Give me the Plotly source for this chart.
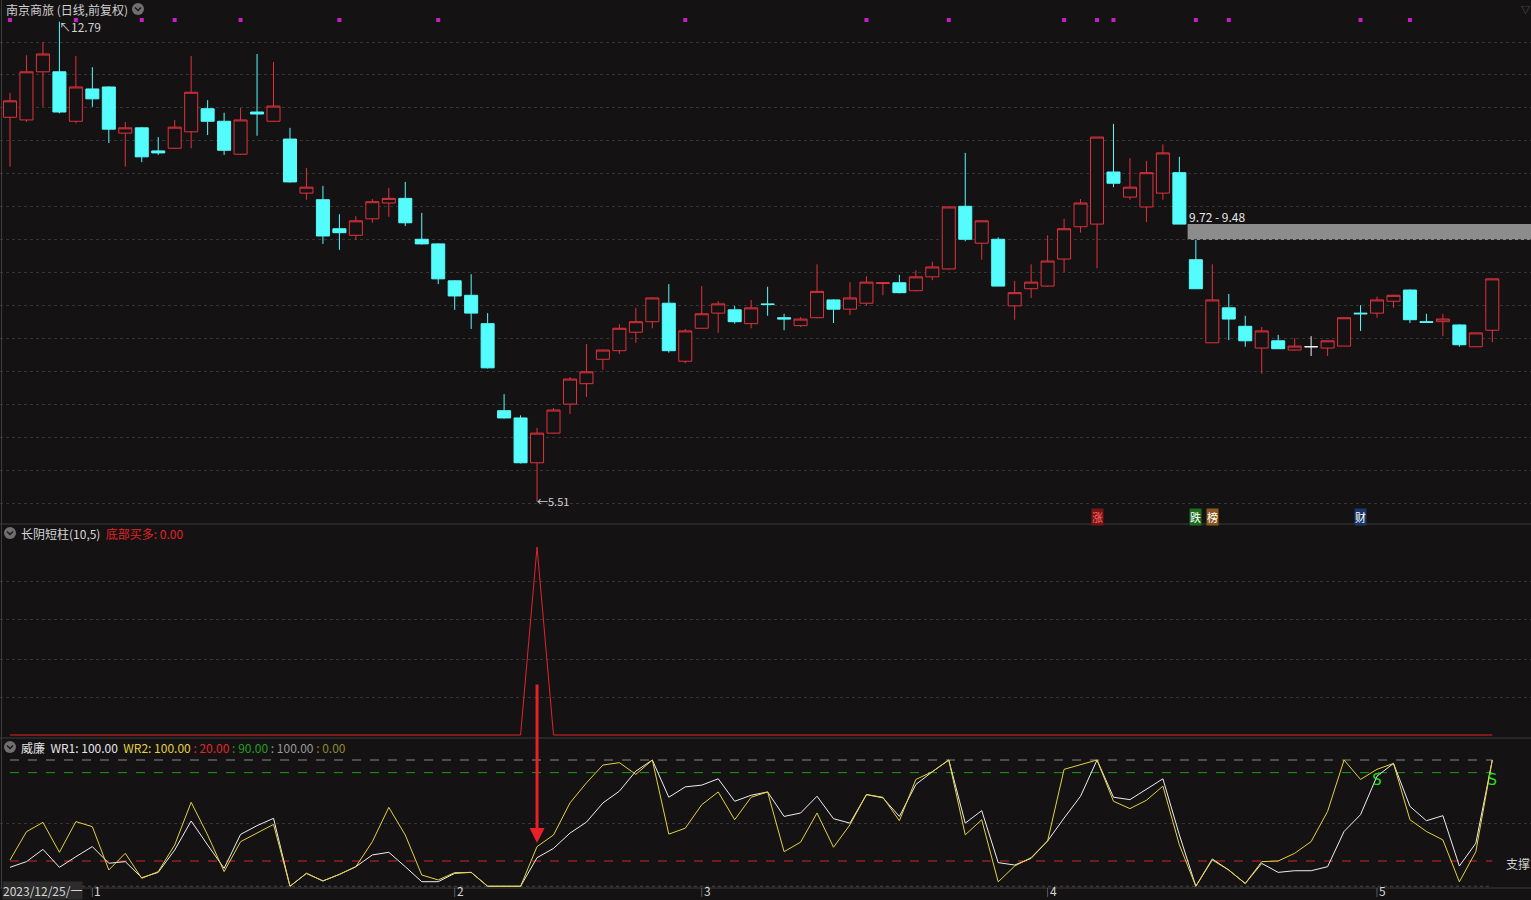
import plotly.graph_objects as go

W, H = 1531, 900
BG = '#151214'
RED = '#e0323c'
CYAN = '#54fcfc'
FONT = 'Noto Sans CJK SC, Microsoft YaHei, sans-serif'

# ---------------- data ----------------
opens = [11.34, 11.30, 12.03, 12.03, 11.28, 11.77, 11.80, 11.10, 11.18, 10.83,
         10.87, 11.12, 11.47, 11.28, 10.78, 11.42, 11.28, 11.01, 10.19, 10.09,
         9.65, 9.55, 9.80, 10.04, 10.11, 9.49, 9.42, 8.86, 8.64, 8.21,
         6.89, 6.78, 6.10, 6.55, 6.99, 7.30, 7.67, 7.80, 8.08, 8.24,
         8.52, 7.64, 8.14, 8.37, 8.42, 8.21, 8.51, 8.30, 8.18, 8.30,
         8.57, 8.43, 8.52, 8.82, 8.83, 8.71, 8.92, 9.04, 9.99, 9.43,
         9.49, 8.48, 8.74, 8.78, 9.19, 9.68, 9.72, 10.51, 10.13, 9.98,
         10.19, 10.50, 9.18, 7.92, 8.45, 8.17, 7.84, 7.95, 7.81, 7.86,
         7.84, 7.87, 8.37, 8.37, 8.55, 8.72, 8.24, 8.24, 8.19, 7.86,
         8.11]
highs = [11.71, 12.28, 12.48, 12.79, 12.27, 12.10, 11.81, 11.27, 11.19, 11.04,
         11.30, 12.27, 11.60, 11.41, 11.48, 12.30, 12.18, 11.18, 10.57, 10.30,
         9.87, 9.84, 10.10, 10.27, 10.36, 9.89, 9.43, 8.87, 8.96, 8.37,
         7.14, 6.82, 6.63, 6.93, 7.40, 7.90, 7.82, 8.20, 8.45, 8.61,
         8.81, 8.13, 8.78, 8.55, 8.48, 8.57, 8.77, 8.36, 8.31, 9.11,
         8.58, 8.84, 8.93, 8.84, 8.95, 9.02, 9.15, 9.98, 10.80, 9.78,
         9.52, 8.86, 9.11, 9.55, 9.80, 10.10, 11.04, 11.24, 10.72, 10.68,
         10.93, 10.74, 9.48, 9.11, 8.66, 8.33, 8.16, 8.04, 7.99, 8.02,
         7.95, 8.30, 8.49, 8.62, 8.65, 8.73, 8.36, 8.36, 8.20, 8.07,
         8.89]
lows = [10.59, 11.27, 11.50, 11.40, 11.25, 11.50, 10.95, 10.59, 10.66, 10.77,
        10.86, 10.87, 11.07, 10.77, 10.77, 11.06, 11.27, 10.35, 10.09, 9.42,
        9.33, 9.48, 9.74, 9.83, 9.69, 9.41, 8.81, 8.42, 8.13, 7.53,
        6.77, 6.09, 5.51, 6.54, 6.84, 7.10, 7.51, 7.75, 7.92, 8.14,
        7.77, 7.61, 8.13, 8.07, 8.21, 8.14, 8.33, 8.11, 8.16, 8.29,
        8.22, 8.34, 8.48, 8.64, 8.67, 8.70, 8.87, 9.03, 9.46, 9.18,
        8.78, 8.27, 8.60, 8.77, 8.99, 9.59, 9.05, 10.28, 10.09, 9.75,
        10.09, 9.72, 8.74, 7.92, 7.96, 7.86, 7.45, 7.83, 7.80, 7.72,
        7.72, 7.87, 8.10, 8.30, 8.45, 8.22, 8.23, 8.02, 7.86, 7.86,
        7.93]
closes = [11.59, 12.03, 12.30, 11.42, 11.80, 11.62, 11.16, 11.18, 10.74, 10.80,
          11.19, 11.72, 11.28, 10.84, 11.30, 11.39, 11.51, 10.36, 10.28, 9.54,
          9.59, 9.77, 10.06, 10.11, 9.74, 9.42, 8.89, 8.63, 8.37, 7.54,
          6.78, 6.10, 6.55, 6.90, 7.37, 7.48, 7.81, 8.14, 8.24, 8.60,
          7.80, 8.10, 8.36, 8.51, 8.24, 8.45, 8.50, 8.28, 8.28, 8.70,
          8.43, 8.60, 8.84, 8.83, 8.68, 8.92, 9.07, 9.98, 9.49, 9.77,
          8.78, 8.68, 8.84, 9.16, 9.65, 10.04, 11.04, 10.34, 10.28, 10.50,
          10.80, 9.72, 8.74, 8.57, 8.28, 7.95, 8.10, 7.83, 7.87, 7.86,
          7.95, 8.30, 8.36, 8.57, 8.64, 8.27, 8.23, 8.28, 7.89, 8.07,
          8.89]

# 长阴短柱 indicator (底部买多)
bottom_buy = [0, 0, 0, 0, 0, 0, 0, 0, 0, 0,
              0, 0, 0, 0, 0, 0, 0, 0, 0, 0,
              0, 0, 0, 0, 0, 0, 0, 0, 0, 0,
              0, 0, 1, 0, 0, 0, 0, 0, 0, 0,
              0, 0, 0, 0, 0, 0, 0, 0, 0, 0,
              0, 0, 0, 0, 0, 0, 0, 0, 0, 0,
              0, 0, 0, 0, 0, 0, 0, 0, 0, 0,
              0, 0, 0, 0, 0, 0, 0, 0, 0, 0,
              0, 0, 0, 0, 0, 0, 0, 0, 0, 0,
              0]

# 威廉 WR1 / WR2
wr1 = [15.0, 19.5, 29.2, 15.0, 23.4, 31.4, 18.2, 19.5, 6.8, 11.0,
       28.7, 51.7, 32.7, 14.2, 41.1, 48.0, 53.8, 0.0, 10.2, 4.2,
       9.4, 15.5, 24.8, 26.9, 15.5, 3.6, 3.6, 10.2, 11.0, 0.0,
       0.0, 0.0, 22.6, 30.0, 42.1, 50.8, 66.0, 75.3, 91.2, 100.0,
       70.5, 78.7, 80.1, 85.1, 67.3, 72.1, 74.7, 55.3, 58.0, 71.3,
       53.5, 50.0, 72.6, 70.0, 55.3, 80.6, 90.7, 100.0, 50.0, 59.9,
       18.7, 16.8, 22.1, 35.9, 54.0, 71.3, 100.0, 70.5, 68.6, 76.6,
       85.1, 40.7, 0.0, 21.6, 12.8, 2.2, 18.1, 11.0, 12.3, 12.3,
       15.5, 43.4, 56.7, 87.2, 97.3, 63.3, 51.9, 55.9, 16.0, 34.1,
       100.0]
wr2 = [20.8, 43.2, 50.6, 26.9, 51.2, 47.2, 12.9, 26.1, 6.3, 11.6,
       32.7, 66.5, 40.6, 11.6, 35.3, 41.9, 49.0, 0.0, 10.2, 4.2,
       9.4, 15.5, 35.3, 62.5, 40.6, 8.9, 5.0, 10.8, 11.0, 0.0,
       0.0, 0.0, 31.4, 40.6, 66.0, 81.9, 96.0, 97.9, 88.6, 100.0,
       41.3, 46.0, 64.6, 74.7, 52.7, 70.5, 74.7, 27.4, 34.9, 58.0,
       30.9, 48.7, 72.6, 70.5, 51.9, 84.6, 90.7, 100.0, 40.7, 52.7,
       3.5, 16.0, 22.7, 35.9, 92.6, 96.5, 100.0, 67.3, 61.5, 68.1,
       79.3, 32.8, 0.0, 20.8, 12.8, 2.2, 19.5, 20.0, 26.1, 35.4,
       59.3, 100.0, 84.6, 92.6, 97.3, 52.7, 43.4, 36.7, 3.5, 27.4,
       100.0]
wr_levels = [20, 90, 100, 0]

sell_idx = [83, 90]
sell_val = [83.3, 83.3]
sell_text = ['S', 'S']

signal_dots = [0, 4, 8, 10, 14, 20, 26, 41, 52, 57, 64, 66, 67, 72, 74, 82, 85]

gap_start = 71
gap_low, gap_high = 9.48, 9.72

event_idx = [66, 72, 73, 82]
event_text = ['涨', '跌', '榜', '财']

start_label = '2023/12/25/一'
month_idx = [5, 27, 42, 63, 83]
month_text = ['1', '2', '3', '4', '5']

title_main = '南京商旅 (日线,前复权)'
title_ind = '长阴短柱(10,5)'
ind_name = '底部买多'
title_wr = '威廉'
support_text = '支撑'

# ---------------- helpers ----------------
n = len(closes)
x = list(range(n))
STEP = 16.47
X0 = 10.0


def px(v):
    return v / W


def py(v):
    return 1 - v / H


x_range = [-X0 / STEP, (W - X0) / STEP]
# main price panel (pixel rows 0..524)
p_top, p_per_px = 13.119, 0.015167
y1_range = [p_top - 524 * p_per_px, p_top]
# indicator panel
y2_range = [(735 - 739) / 188.0, (735 - 525) / 188.0]
# WR panel
y3_range = [(886.25 - 888) / 1.2625, (886.25 - 739) / 1.2625]

is_doji = [o == c for o, c in zip(opens, closes)]

fig = go.Figure()

fig.add_trace(go.Candlestick(
    x=x,
    open=[None if d else v for v, d in zip(opens, is_doji)],
    high=[None if d else v for v, d in zip(highs, is_doji)],
    low=[None if d else v for v, d in zip(lows, is_doji)],
    close=[None if d else v for v, d in zip(closes, is_doji)],
    increasing=dict(line=dict(color=RED, width=1), fillcolor=BG),
    decreasing=dict(line=dict(color=CYAN, width=1), fillcolor=CYAN),
    xaxis='x', yaxis='y', hoverinfo='skip'))

dx = [i for i in x if is_doji[i]]
fig.add_trace(go.Candlestick(
    x=dx,
    open=[opens[i] for i in dx], high=[highs[i] for i in dx],
    low=[lows[i] for i in dx], close=[closes[i] for i in dx],
    increasing=dict(line=dict(color='#f0f0f0', width=1), fillcolor='#f0f0f0'),
    decreasing=dict(line=dict(color='#f0f0f0', width=1), fillcolor='#f0f0f0'),
    xaxis='x', yaxis='y', hoverinfo='skip'))

# top signal dots
fig.add_trace(go.Scatter(
    x=signal_dots, y=[y1_range[1] - 20 * p_per_px] * len(signal_dots),
    mode='markers', marker=dict(symbol='square', size=4, color='#c81ec8'),
    xaxis='x', yaxis='y', hoverinfo='skip'))

# indicator line
fig.add_trace(go.Scatter(
    x=x, y=bottom_buy, mode='lines', line=dict(color='#e0242c', width=1),
    xaxis='x', yaxis='y2', hoverinfo='skip'))

# WR lines
fig.add_trace(go.Scatter(
    x=x, y=wr1, mode='lines', line=dict(color='#eeeeee', width=1),
    xaxis='x', yaxis='y3', hoverinfo='skip'))
fig.add_trace(go.Scatter(
    x=x, y=wr2, mode='lines', line=dict(color='#e3d23c', width=1),
    xaxis='x', yaxis='y3', hoverinfo='skip'))
fig.add_trace(go.Scatter(
    x=sell_idx, y=sell_val, mode='text', text=sell_text,
    textfont=dict(color='#22dd22', size=15, family='DejaVu Sans'),
    xaxis='x', yaxis='y3', hoverinfo='skip'))

shapes = []
level_styles = [('#d42424', 'dash'), ('#1e9a1e', 'dash'), ('#8a8a8a', 'dash'), ('#4a4a4a', 'dot')]
for lv, (col, dash) in zip(wr_levels, level_styles):
    shapes.append(dict(type='line', xref='x', yref='y3', x0=0, x1=n - 1, y0=lv, y1=lv,
                       line=dict(color=col, width=1, dash=dash), layer='below'))

# gap band
shapes.append(dict(type='rect', xref='x', yref='y', x0=gap_start + 0.5, x1=x_range[1],
                   y0=gap_low, y1=gap_high, fillcolor='#8c8c8c', line=dict(width=0), layer='below'))

# separators
for yy in [524, 738, 888]:
    shapes.append(dict(type='line', xref='paper', yref='paper', x0=0, x1=1, y0=py(yy), y1=py(yy),
                       line=dict(color='#3c3c3c', width=1)))
shapes.append(dict(type='line', xref='paper', yref='paper', x0=px(1.5), x1=px(1.5), y0=py(888), y1=1,
                   line=dict(color='#3c3c3c', width=1)))

# month tick marks
for mi in month_idx:
    shapes.append(dict(type='line', xref='x', yref='paper', x0=mi, x1=mi, y0=py(897), y1=py(888),
                       line=dict(color='#5a5a5a', width=1)))


def icon(cx, cy):
    shapes.append(dict(type='circle', xref='paper', yref='paper',
                       x0=px(cx - 6), x1=px(cx + 6), y0=py(cy + 6), y1=py(cy - 6),
                       fillcolor='#707070', line=dict(width=0)))
    shapes.append(dict(type='path', xref='paper', yref='paper',
                       path=f'M {px(cx - 3)},{py(cy - 1.5)} L {px(cx)},{py(cy + 1.5)} L {px(cx + 3)},{py(cy - 1.5)}',
                       line=dict(color='#1a1a1a', width=1.5)))


icon(138, 9)
icon(10, 533)
icon(10, 747)

ann = []


def text(xp, yp, t, color='#d0d0d0', size=12, xanchor='left', yanchor='middle', **kw):
    ann.append(dict(xref='paper', yref='paper', x=px(xp), y=py(yp), text=t, showarrow=False,
                    xanchor=xanchor, yanchor=yanchor, font=dict(family=FONT, size=size, color=color), **kw))


text(4, 9, title_main, color='#cfcfcf')
text(19, 533, f"{title_ind}\u00a0\u00a0<span style='color:#e02424'>{ind_name}: {bottom_buy[-1]:.2f}</span>",
     color='#d6d6d6')
lvl_cols = ['#e02828', '#22a022', '#9a9a9a', '#8c8c32']
lvl_txt = ''.join(f"<span style='color:{c}'> : {lv:.2f}</span>" for lv, c in zip(wr_levels, lvl_cols))
text(19, 747, f"{title_wr}\u00a0\u00a0WR1: {wr1[-1]:.2f}\u00a0\u00a0<span style='color:#e3d23c'>WR2: {wr2[-1]:.2f}</span>{lvl_txt}",
     color='#e6e6e6')
text(1187, 217, f'{gap_high:.2f} - {gap_low:.2f}', color='#e6e6e6')
text(1504, 863, support_text, color='#cfcfcf')
text(1525, 9, '▽', color='#6a6a6a', size=9, xanchor='center')
text(2, 900, start_label, color='#d6d6d6', yanchor='bottom', bgcolor='#2c2c2c', borderpad=0)

for mi, mt in zip(month_idx, month_text):
    ann.append(dict(xref='x', yref='paper', x=mi, y=0, text=mt, showarrow=False,
                    xanchor='left', yanchor='bottom', xshift=1, borderpad=0,
                    font=dict(family=FONT, size=12, color='#d6d6d6')))

# high / low labels
hi_i = max(x, key=lambda i: highs[i])
lo_i = min(x, key=lambda i: lows[i])
ann.append(dict(xref='x', yref='y', x=hi_i, y=highs[hi_i], text=f'↖{highs[hi_i]:.2f}', showarrow=False,
                xanchor='left', yanchor='middle', xshift=-2, yshift=-5,
                font=dict(family=FONT, size=12, color='#d0d0d0')))
ann.append(dict(xref='x', yref='y', x=lo_i, y=lows[lo_i], text=f'←{lows[lo_i]:.2f}', showarrow=False,
                xanchor='left', yanchor='middle', xshift=-2, yshift=1,
                font=dict(family=FONT, size=11, color='#d0d0d0')))

# event tags
ev_style = [('#ff6a6a', '#7a1414'), ('#ffffff', '#1c6e1c'), ('#ffffff', '#8a5a1e'), ('#ffffff', '#1a3766')]
for ei, et, (fc, bc) in zip(event_idx, event_text, ev_style):
    ann.append(dict(xref='x', yref='paper', x=ei, y=py(517), text=et, showarrow=False,
                    xanchor='center', yanchor='middle', bgcolor=bc, borderpad=0,
                    font=dict(family=FONT, size=11, color=fc)))

# red arrow pointing at the bottom-buy signal
sig_i = max(x, key=lambda i: bottom_buy[i])
ann.append(dict(xref='x', yref='paper', x=sig_i, y=py(843), ax=0, ay=-160, text='',
                showarrow=True, arrowhead=2, arrowsize=1, arrowwidth=3, arrowcolor='#e8202a', standoff=0))

axis_common = dict(showticklabels=False, zeroline=False, ticks='', showline=False,
                   gridcolor='#353535', griddash='dot', gridwidth=1)

fig.update_layout(
    width=W, height=H,
    margin=dict(l=0, r=0, t=0, b=0),
    paper_bgcolor=BG, plot_bgcolor=BG,
    showlegend=False, hovermode=False,
    boxgap=0.21, boxgroupgap=0,
    xaxis=dict(range=x_range, visible=False, rangeslider=dict(visible=False), fixedrange=True),
    yaxis=dict(domain=[py(524), 1], range=y1_range, showgrid=True,
               tickvals=[12.482 - 0.4995 * k for k in range(15)], **axis_common),
    yaxis2=dict(domain=[py(739), py(525)], range=y2_range, showgrid=True,
                tickvals=[0.197, 0.404, 0.612, 0.819], **axis_common),
    yaxis3=dict(domain=[py(888), py(739)], range=y3_range, showgrid=True,
                tickvals=[50], **axis_common),
    shapes=shapes,
    annotations=ann,
)

fig.write_html('out.html')
